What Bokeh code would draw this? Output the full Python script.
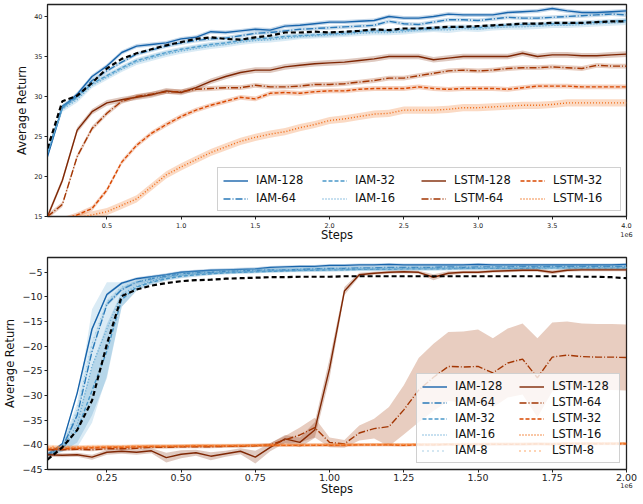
from bokeh.plotting import figure
from bokeh.layouts import column
from bokeh.models import (Range1d, FixedTicker, CustomJSTickFormatter, Legend, LegendItem, LinearAxis)
from bokeh.embed import file_html
from bokeh.resources import INLINE

# ---------------- top panel data (steps in millions) ----------------
steps_top = [0.1, 0.2, 0.3, 0.4, 0.5, 0.6, 0.7, 0.8, 0.9, 1.0, 1.1, 1.2, 1.3, 1.4, 1.5, 1.6, 1.7, 1.8, 1.9, 2.0,
             2.1, 2.2, 2.3, 2.4, 2.5, 2.6, 2.7, 2.8, 2.9, 3.0, 3.1, 3.2, 3.3, 3.4, 3.5, 3.6, 3.7, 3.8, 3.9, 4.0]
iam128_t = [22.5, 28.6, 30.3, 32.5, 33.8, 35.5, 36.3, 36.5, 36.7, 37.2, 37.4, 38.1, 38.0, 38.2, 38.4, 38.3, 38.8, 38.9, 39.1, 39.3,
            39.3, 39.4, 39.5, 40.0, 39.8, 39.8, 40.0, 40.3, 40.2, 40.2, 40.2, 40.5, 40.6, 40.7, 41.0, 40.7, 40.5, 40.5, 40.6, 40.7]
iam64_t = [23.0, 28.8, 30.0, 32.0, 33.2, 34.3, 35.3, 35.8, 36.3, 36.7, 37.0, 37.2, 37.3, 37.6, 37.9, 38.0, 38.2, 38.4, 38.5, 38.6,
           38.7, 38.8, 38.9, 39.4, 39.1, 39.0, 39.3, 39.6, 39.6, 39.5, 39.7, 39.9, 39.8, 39.8, 39.9, 40.0, 40.1, 40.2, 40.3, 40.2]
iam32_t = [23.0, 28.6, 29.9, 31.6, 32.6, 33.6, 34.5, 35.0, 35.5, 35.9, 36.2, 36.5, 36.7, 37.0, 37.2, 37.3, 37.5, 37.6, 37.7, 37.8,
           37.9, 38.1, 38.2, 38.2, 38.3, 38.4, 38.5, 38.6, 38.7, 38.6, 38.8, 38.9, 39.0, 39.0, 39.1, 39.1, 39.2, 39.3, 39.4, 39.5]
iam16_t = [23.0, 28.4, 29.6, 31.4, 32.4, 33.4, 34.3, 34.8, 35.3, 35.7, 36.0, 36.3, 36.5, 36.8, 37.0, 37.1, 37.3, 37.5, 37.6, 37.7,
           37.8, 37.9, 38.0, 38.0, 38.1, 38.3, 38.4, 38.3, 38.5, 38.4, 38.6, 38.7, 38.7, 38.8, 38.9, 38.9, 39.0, 39.1, 39.2, 39.3]
base_t = [23.5, 29.4, 30.1, 31.7, 33.5, 34.7, 35.4, 35.9, 36.4, 36.8, 37.2, 37.4, 37.2, 37.1, 37.4, 37.6, 38.0, 38.0, 38.1, 38.0,
          38.1, 38.2, 38.4, 38.3, 38.5, 38.5, 38.6, 38.7, 38.7, 38.8, 38.9, 39.0, 39.1, 39.1, 39.2, 39.2, 39.2, 39.3, 39.4, 39.4]
lstm128_t = [15.0, 19.5, 25.8, 28.1, 29.2, 29.6, 29.9, 30.2, 30.7, 30.5, 31.1, 31.9, 32.5, 33.0, 33.3, 33.3, 33.7, 33.9, 34.1, 34.2,
             34.3, 34.5, 34.7, 35.0, 35.0, 35.0, 34.6, 34.8, 35.0, 35.0, 35.0, 35.0, 35.4, 35.0, 35.2, 35.2, 35.1, 35.1, 35.2, 35.3]
lstm64_t = [15.0, 16.5, 22.5, 26.0, 27.9, 29.4, 30.0, 30.3, 30.6, 30.6, 30.9, 31.0, 31.1, 31.1, 31.4, 31.2, 31.2, 31.3, 31.5, 31.5,
            31.6, 31.8, 32.0, 32.3, 32.3, 32.6, 32.9, 33.2, 33.3, 33.2, 33.3, 33.5, 33.6, 33.6, 33.7, 33.6, 33.5, 33.9, 33.8, 33.8]
lstm32_t = [14.0, 14.6, 15.2, 16.0, 18.3, 21.8, 23.9, 25.4, 26.5, 27.5, 28.3, 28.9, 29.4, 29.9, 29.7, 30.4, 30.5, 30.4, 30.6, 30.7,
            30.7, 30.9, 31.0, 31.0, 31.0, 31.2, 31.0, 30.9, 31.0, 31.0, 31.0, 30.9, 31.1, 31.3, 31.3, 31.3, 31.2, 31.2, 31.2, 31.2]
lstm16_t = [13.5, 14.2, 14.8, 15.2, 15.6, 16.4, 17.2, 18.7, 20.2, 21.2, 22.1, 23.0, 23.7, 24.4, 24.9, 25.3, 25.6, 26.1, 26.5, 27.0,
            27.2, 27.5, 27.8, 27.9, 28.3, 28.3, 28.3, 28.4, 28.6, 28.6, 28.7, 28.8, 28.9, 28.9, 29.0, 29.2, 29.2, 29.2, 29.2, 29.2]
spread_t = {"IAM-128": 0.25, "IAM-64": 0.25, "IAM-32": 0.3, "IAM-16": 0.35,
            "LSTM-128": 0.35, "LSTM-64": 0.3, "LSTM-32": 0.3, "LSTM-16": 0.45}
xticks_top = [0.5, 1.0, 1.5, 2.0, 2.5, 3.0, 3.5, 4.0]
yticks_top = [15, 20, 25, 30, 35, 40]

# ---------------- bottom panel data (steps in millions) ----------------
steps_bot = [0.05, 0.10, 0.15, 0.20, 0.25, 0.30, 0.35, 0.40, 0.45, 0.50, 0.55, 0.60, 0.65, 0.70, 0.75, 0.80, 0.85, 0.90, 0.95, 1.00,
             1.05, 1.10, 1.15, 1.20, 1.25, 1.30, 1.35, 1.40, 1.45, 1.50, 1.55, 1.60, 1.65, 1.70, 1.75, 1.80, 1.85, 1.90, 1.95, 2.00]
iam128_b = [-42.0, -39.8, -29.5, -16.5, -9.5, -7.2, -6.3, -5.9, -5.5, -5.0, -4.8, -4.6, -4.5, -4.4, -4.3, -4.0, -3.9, -3.8, -3.8, -3.6,
            -3.6, -3.5, -3.5, -3.4, -3.5, -3.5, -3.5, -3.5, -3.5, -3.4, -3.5, -3.5, -3.5, -3.5, -3.5, -3.5, -3.5, -3.5, -3.5, -3.4]
iam64_b = [-42.0, -40.5, -34.0, -21.0, -11.5, -8.5, -7.0, -6.3, -5.8, -5.3, -5.1, -5.0, -4.8, -4.7, -4.6, -4.5, -4.5, -4.4, -4.3, -4.2,
           -4.2, -4.1, -4.1, -4.0, -4.0, -4.0, -4.0, -3.9, -4.0, -3.9, -3.9, -3.9, -3.8, -3.9, -3.8, -3.8, -3.8, -3.8, -3.8, -3.8]
iam32_b = [-42.0, -40.8, -37.0, -29.0, -21.0, -10.5, -8.0, -7.0, -6.3, -5.8, -5.5, -5.3, -5.1, -5.0, -4.9, -4.8, -4.7, -4.6, -4.6, -4.5,
           -4.5, -4.4, -4.4, -4.4, -4.3, -4.3, -4.3, -4.3, -4.2, -4.2, -4.2, -4.2, -4.2, -4.1, -4.1, -4.1, -4.1, -4.1, -4.1, -4.1]
iam16_b = [-42.0, -40.5, -36.0, -24.0, -16.5, -9.5, -7.8, -6.8, -6.0, -5.6, -5.3, -5.1, -5.0, -4.9, -4.8, -4.7, -4.6, -4.6, -4.5, -4.5,
           -4.4, -4.4, -4.4, -4.3, -4.3, -4.3, -4.3, -4.2, -4.2, -4.2, -4.2, -4.2, -4.2, -4.2, -4.1, -4.1, -4.1, -4.1, -4.1, -4.1]
iam8_b = [-42.0, -40.2, -33.0, -19.5, -11.0, -8.0, -6.9, -6.2, -5.7, -5.3, -5.1, -4.9, -4.8, -4.7, -4.6, -4.5, -4.4, -4.4, -4.3, -4.3,
          -4.3, -4.2, -4.2, -4.2, -4.2, -4.1, -4.1, -4.1, -4.1, -4.1, -4.0, -4.0, -4.0, -4.0, -4.0, -4.0, -4.0, -4.0, -4.0, -4.0]
base_b = [-43.0, -40.5, -37.0, -31.0, -19.6, -9.8, -8.5, -7.7, -7.2, -6.8, -6.6, -6.5, -6.3, -6.2, -6.1, -6.0, -6.0, -5.9, -5.9, -5.9,
          -5.8, -5.8, -5.8, -5.8, -5.8, -5.8, -5.8, -5.8, -5.8, -5.8, -5.8, -5.8, -5.8, -5.8, -5.8, -5.8, -5.9, -5.9, -6.0, -6.2]
lstm128_b = [-42.0, -42.1, -42.0, -42.5, -41.5, -41.3, -41.5, -41.2, -42.6, -41.9, -41.6, -42.3, -41.8, -41.3, -42.5, -40.5, -38.8, -39.5, -37.0, -24.5,
             -8.8, -5.5, -5.2, -5.0, -4.9, -5.0, -6.0, -5.2, -5.0, -5.0, -4.8, -4.7, -4.6, -4.6, -5.0, -4.6, -4.5, -4.5, -4.5, -4.5]
lstm64_b = [-41.0, -41.0, -40.9, -41.0, -40.8, -40.8, -40.7, -40.5, -40.5, -40.4, -40.4, -40.4, -40.3, -40.3, -40.2, -40.0, -39.0, -38.0, -36.5, -39.5,
            -39.8, -37.6, -36.7, -36.3, -32.9, -28.9, -26.3, -24.1, -24.2, -24.1, -25.4, -23.4, -22.6, -26.4, -22.2, -21.8, -22.1, -22.2, -22.2, -22.3]
lstm32_b = [-40.9, -40.8, -40.7, -40.6, -40.5, -40.5, -40.4, -40.3, -40.3, -40.3, -40.2, -40.2, -40.2, -40.2, -40.1, -40.1, -40.1, -40.1, -40.1, -40.1,
            -40.1, -40.0, -40.0, -40.0, -40.1, -40.0, -40.0, -39.9, -40.0, -39.9, -39.9, -39.9, -39.9, -39.8, -39.9, -39.8, -39.8, -39.8, -39.8, -39.8]
lstm16_b = [-40.6, -40.6, -40.5, -40.5, -40.4, -40.4, -40.3, -40.3, -40.3, -40.2, -40.2, -40.2, -40.2, -40.1, -40.1, -40.1, -40.1, -40.1, -40.0, -40.0,
            -40.0, -40.0, -40.0, -40.0, -40.0, -39.9, -39.9, -39.9, -39.9, -39.9, -39.8, -39.8, -39.8, -39.8, -39.8, -39.7, -39.7, -39.7, -39.7, -39.7]
lstm8_b = [-40.3, -40.4, -40.4, -40.3, -40.3, -40.3, -40.2, -40.2, -40.2, -40.2, -40.1, -40.1, -40.1, -40.1, -40.1, -40.0, -40.0, -40.0, -40.0, -40.0,
           -40.0, -40.0, -39.9, -39.9, -39.9, -39.9, -39.9, -39.9, -39.8, -39.8, -39.8, -39.8, -39.8, -39.8, -39.8, -39.7, -39.7, -39.7, -39.7, -39.7]
iam16_b_sd = [0.5, 0.8, 4.5, 11.5, 9.5, 2.5, 1.0, 0.7, 0.6, 0.5, 0.5, 0.4, 0.4, 0.4, 0.4, 0.4, 0.4, 0.4, 0.4, 0.4,
              0.4, 0.4, 0.4, 0.4, 0.4, 0.4, 0.4, 0.4, 0.4, 0.4, 0.4, 0.4, 0.4, 0.4, 0.4, 0.4, 0.4, 0.4, 0.4, 0.4]
iam32_b_sd = [0.4, 0.6, 2.5, 5.0, 5.5, 1.5, 0.7, 0.5, 0.4, 0.4, 0.4, 0.3, 0.3, 0.3, 0.3, 0.3, 0.3, 0.3, 0.3, 0.3,
              0.3, 0.3, 0.3, 0.3, 0.3, 0.3, 0.3, 0.3, 0.3, 0.3, 0.3, 0.3, 0.3, 0.3, 0.3, 0.3, 0.3, 0.3, 0.3, 0.3]
lstm128_b_sd = [0.4, 0.4, 0.4, 0.5, 0.5, 0.5, 0.5, 0.5, 1.0, 0.8, 0.6, 0.8, 0.6, 0.6, 1.3, 0.8, 0.8, 1.0, 1.6, 2.0,
                0.8, 0.4, 0.3, 0.3, 0.3, 0.3, 0.6, 0.4, 0.3, 0.3, 0.3, 0.3, 0.3, 0.3, 0.4, 0.3, 0.3, 0.3, 0.3, 0.3]
lstm64_b_sd = [0.3, 0.3, 0.3, 0.3, 0.3, 0.3, 0.3, 0.3, 0.3, 0.3, 0.3, 0.3, 0.3, 0.3, 0.3, 0.4, 0.8, 1.5, 2.0, 1.0,
               0.8, 1.5, 2.0, 4.0, 5.0, 6.5, 6.8, 7.0, 7.2, 7.5, 7.0, 7.0, 7.2, 8.0, 7.0, 6.8, 6.7, 6.7, 6.7, 6.7]
spread_b = {"IAM-128": 0.3, "IAM-64": 0.4, "IAM-8": 0.4, "LSTM-32": 0.3, "LSTM-16": 0.3, "LSTM-8": 0.3}
xticks_bot = [0.25, 0.5, 0.75, 1.0, 1.25, 1.5, 1.75, 2.0]
yticks_bot = [-45, -40, -35, -30, -25, -20, -15, -10, -5]
offset_tick_bot = [2.0]

# ---------------- styles ----------------
COL = {"IAM-128": "#1764ab", "IAM-64": "#2a7ab9", "IAM-32": "#4a98c9", "IAM-16": "#6aaed6", "IAM-8": "#8cc0dd",
       "LSTM-128": "#7f2704", "LSTM-64": "#a33603", "LSTM-32": "#d94801", "LSTM-16": "#f06a14", "LSTM-8": "#fd8d3c"}
DASH = {"128": "solid", "64": "7 2 1 2", "32": "4 2", "16": "1 2", "8": "1 4"}
FONT = "DejaVu Sans"


def style_axis(ax, tick_size):
    ax.axis_line_color = "#222222"
    ax.major_tick_line_color = "#222222"
    ax.major_tick_out = 3
    ax.major_tick_in = 0
    ax.minor_tick_line_color = None
    ax.major_label_text_font = FONT
    ax.major_label_text_font_size = tick_size
    ax.major_label_text_color = "#222222"
    ax.major_label_standoff = 2
    ax.axis_label_text_font = FONT
    ax.axis_label_text_font_size = "11.5px"
    ax.axis_label_text_font_style = "normal"
    ax.axis_label_text_color = "#111111"


def style(p, tick_size, fmt_x, ticks_y, fmt_y, ticks_x):
    p.outline_line_color = "#222222"
    p.outline_line_width = 1.3
    p.xgrid.visible = False
    p.ygrid.visible = False
    style_axis(p.xaxis[0], tick_size)
    style_axis(p.yaxis[0], tick_size)
    p.yaxis.axis_label_standoff = 2
    p.xaxis.ticker = FixedTicker(ticks=ticks_x)
    p.xaxis.formatter = fmt_x
    p.yaxis.ticker = FixedTicker(ticks=ticks_y)
    p.yaxis.formatter = fmt_y
    p.yaxis.axis_label = "Average Return"


def add_series(p, x, y, sd, name):
    col = COL[name]
    size = name.split("-")[1]
    if isinstance(sd, (int, float)):
        lo = [v - sd for v in y]
        hi = [v + sd for v in y]
    else:
        lo = [v - s for v, s in zip(y, sd)]
        hi = [v + s for v, s in zip(y, sd)]
    p.varea(x=x, y1=lo, y2=hi, fill_color=col, fill_alpha=0.25)
    r = p.line(x, y, line_color=col, line_width=1.4, line_dash=DASH[size])
    return LegendItem(label=name, renderers=[r])


neg_fmt = CustomJSTickFormatter(code="return tick < 0 ? '\\u2212' + (-tick) : '' + tick;")
int_fmt = CustomJSTickFormatter(code="return '' + tick;")
top_x_fmt = CustomJSTickFormatter(code="var s = tick.toFixed(1); return tick >= 3.99 ? s + '\\n1e6' : s;")
bot_x_fmt = CustomJSTickFormatter(code="return tick.toFixed(2);")

# ---------------- top figure ----------------
p1 = figure(width=640, height=245, output_backend="svg", toolbar_location=None,
            x_range=Range1d(0.1, 4.0), y_range=Range1d(15, 41.5),
            min_border_left=45, min_border_right=14, min_border_top=4, min_border_bottom=4)
style(p1, "6.5px", top_x_fmt, yticks_top, int_fmt, xticks_top)
p1.xaxis.axis_label = "Steps"
p1.xaxis.axis_label_standoff = -14
items1 = []
for name, ys in [("IAM-128", iam128_t), ("IAM-64", iam64_t), ("IAM-32", iam32_t), ("IAM-16", iam16_t),
                 ("LSTM-128", lstm128_t), ("LSTM-64", lstm64_t), ("LSTM-32", lstm32_t), ("LSTM-16", lstm16_t)]:
    items1.append(add_series(p1, steps_top, ys, spread_t[name], name))
p1.line(steps_top, base_t, line_color="black", line_width=2.2, line_dash="5 3")
leg1 = Legend(items=items1, location="bottom_right", orientation="vertical", nrows=2,
              label_text_font=FONT, label_text_font_size="11.5px", label_text_color="#111111",
              glyph_width=25, glyph_height=13, label_standoff=8, spacing=4, padding=5, margin=5,
              label_width=62, label_height=13,
              background_fill_alpha=0.85, border_line_color="#d0d0d0", border_line_alpha=1.0)
p1.add_layout(leg1)

# ---------------- bottom figure ----------------
p2 = figure(width=640, height=253, output_backend="svg", toolbar_location=None,
            x_range=Range1d(0.05, 2.0), y_range=Range1d(-45, -2),
            min_border_left=45, min_border_right=14, min_border_top=12, min_border_bottom=2)
style(p2, "9.5px", bot_x_fmt, yticks_bot, neg_fmt, xticks_bot)
p2.xaxis[0].major_label_standoff = 1
# second (outer) axis carrying the scale factor and the axis title
ax2 = LinearAxis(ticker=FixedTicker(ticks=offset_tick_bot),
                 formatter=CustomJSTickFormatter(code="return '1e6';"))
style_axis(ax2, "6.5px")
ax2.axis_line_color = None
ax2.major_tick_line_color = None
ax2.major_tick_out = 0
ax2.major_label_standoff = -1
ax2.axis_label = "Steps"
ax2.axis_label_standoff = -9
p2.add_layout(ax2, "below")
bottom_series = [("IAM-16", iam16_b, iam16_b_sd), ("IAM-32", iam32_b, iam32_b_sd),
                 ("IAM-128", iam128_b, spread_b["IAM-128"]), ("IAM-64", iam64_b, spread_b["IAM-64"]),
                 ("IAM-8", iam8_b, spread_b["IAM-8"]),
                 ("LSTM-128", lstm128_b, lstm128_b_sd), ("LSTM-64", lstm64_b, lstm64_b_sd),
                 ("LSTM-32", lstm32_b, spread_b["LSTM-32"]), ("LSTM-16", lstm16_b, spread_b["LSTM-16"]),
                 ("LSTM-8", lstm8_b, spread_b["LSTM-8"])]
tmp = {}
for name, ys, sd in bottom_series:
    tmp[name] = add_series(p2, steps_bot, ys, sd, name)
p2.line(steps_bot, base_b, line_color="black", line_width=2.2, line_dash="5 3")
order = ["IAM-128", "IAM-64", "IAM-32", "IAM-16", "IAM-8", "LSTM-128", "LSTM-64", "LSTM-32", "LSTM-16", "LSTM-8"]
leg2 = Legend(items=[tmp[n] for n in order], location="bottom_right", orientation="vertical", nrows=5,
              label_text_font=FONT, label_text_font_size="11.5px", label_text_color="#111111",
              glyph_width=25, glyph_height=13, label_standoff=8, spacing=2, padding=5, margin=6,
              label_width=62, label_height=13,
              background_fill_alpha=0.8, border_line_color="#d0d0d0", border_line_alpha=1.0)
p2.add_layout(leg2)

layout = column(p1, p2, spacing=0)
open("out.html", "w").write(file_html(layout, INLINE))
